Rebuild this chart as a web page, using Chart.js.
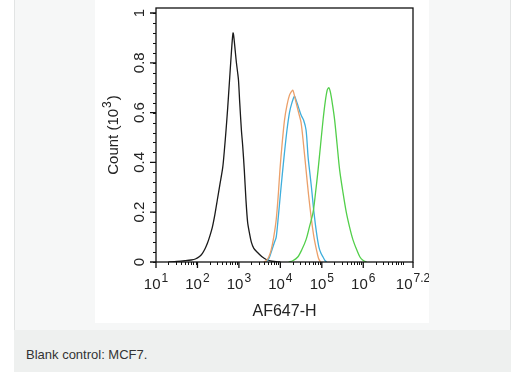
<!DOCTYPE html>
<html>
<head>
<meta charset="utf-8">
<script src="https://cdn.jsdelivr.net/npm/chart.js@4/dist/chart.umd.min.js"></script>
<style>
  html, body { margin: 0; padding: 0; background: #fff; }
  body { width: 519px; height: 372px; position: relative; overflow: hidden; font-family: "Liberation Sans", Arial, sans-serif; }
  .panel { position: absolute; left: 14px; top: -1px; width: 495px; height: 330px; background: #f6f7f7; border: 1px solid #e2e4e4; }
  .caption { position: absolute; left: 14px; top: 330px; width: 497px; height: 42px; background: #eef0ef; }
  .caption span { position: absolute; left: 12px; top: 17px; font-size: 13px; color: #333; }
  .figure { position: absolute; left: 95px; top: 0; width: 334px; height: 323px; background: #fff; }
</style>
</head>
<body>
<div class="panel"></div>
<div class="figure"><canvas id="histChart" width="334" height="323"></canvas></div>
<div class="caption"><span>Blank control: MCF7.</span></div>

<script>
// log10 fluorescence (AF647-H) vs count (x10^3)
const blackX = [1.3, 1.5, 1.7, 1.85, 1.95, 2.05, 2.12, 2.18, 2.24, 2.30, 2.36, 2.42, 2.48, 2.54, 2.61, 2.65, 2.69, 2.73, 2.77, 2.81, 2.84, 2.86, 2.88, 2.91, 2.94, 2.97, 2.99, 3.02, 3.06, 3.09, 3.13, 3.17, 3.21, 3.25, 3.30, 3.36, 3.45, 3.55, 3.66, 3.8, 4.0];
const blackY = [0, 0.002, 0.005, 0.008, 0.012, 0.022, 0.035, 0.052, 0.075, 0.105, 0.14, 0.19, 0.25, 0.31, 0.38, 0.45, 0.53, 0.62, 0.72, 0.82, 0.89, 0.92, 0.90, 0.85, 0.80, 0.76, 0.73, 0.64, 0.53, 0.47, 0.37, 0.25, 0.16, 0.12, 0.08, 0.055, 0.038, 0.022, 0.01, 0.003, 0];

const orangeX = [3.6, 3.66, 3.72, 3.78, 3.84, 3.9, 3.95, 3.99, 4.04, 4.1, 4.16, 4.22, 4.27, 4.3, 4.33, 4.38, 4.44, 4.5, 4.56, 4.62, 4.68, 4.75, 4.81, 4.87, 4.92, 4.97];
const orangeY = [0, 0.005, 0.02, 0.05, 0.1, 0.17, 0.27, 0.37, 0.47, 0.57, 0.63, 0.67, 0.685, 0.69, 0.675, 0.64, 0.6, 0.56, 0.47, 0.37, 0.27, 0.17, 0.1, 0.05, 0.015, 0];

const blueX = [3.65, 3.7, 3.74, 3.8, 3.86, 3.9, 3.95, 4.0, 4.04, 4.1, 4.16, 4.22, 4.28, 4.34, 4.38, 4.44, 4.5, 4.56, 4.62, 4.67, 4.71, 4.75, 4.81, 4.87, 4.93, 4.98, 5.03, 5.08, 5.12];
const blueY = [0, 0.008, 0.02, 0.05, 0.08, 0.1, 0.18, 0.27, 0.34, 0.44, 0.53, 0.6, 0.64, 0.665, 0.65, 0.62, 0.59, 0.57, 0.53, 0.42, 0.36, 0.3, 0.2, 0.12, 0.06, 0.035, 0.02, 0.005, 0];

const greenX = [4.2, 4.3, 4.42, 4.52, 4.62, 4.7, 4.79, 4.85, 4.91, 4.97, 5.03, 5.08, 5.13, 5.17, 5.21, 5.26, 5.31, 5.37, 5.43, 5.51, 5.59, 5.67, 5.75, 5.84, 5.92, 6.0, 6.08];
const greenY = [0, 0.005, 0.02, 0.05, 0.09, 0.14, 0.2, 0.28, 0.37, 0.47, 0.57, 0.64, 0.69, 0.70, 0.68, 0.63, 0.57, 0.47, 0.37, 0.28, 0.2, 0.14, 0.09, 0.05, 0.02, 0.006, 0];

// axis ticks
const xTickExp = [1, 2, 3, 4, 5, 6, 7.2];
const xTickLabels = ['1', '2', '3', '4', '5', '6', '7.2'];
const yTicks = [0, 0.2, 0.4, 0.6, 0.8, 1];
const yTickLabels = ['0', '0.2', '0.4', '0.6', '0.8', '1'];

const pts = (xs, ys) => xs.map((x, i) => ({ x: x, y: ys[i] }));

const FONT = '"Liberation Sans", Arial, sans-serif';
const INK = '#222';

// draws the FlowJo style box, ticks and labels from the chart scales
const flowAxes = {
    id: 'flowAxes',
    afterDatasetsDraw(chart) {
        const { ctx, chartArea: a, scales: { x, y } } = chart;
        ctx.save();
        ctx.strokeStyle = '#111';
        ctx.fillStyle = INK;
        ctx.lineWidth = 1.3;
        ctx.strokeRect(a.left, a.top, a.right - a.left, a.bottom - a.top);

        ctx.lineWidth = 1;
        ctx.beginPath();
        // x minor ticks (log decades)
        for (let d = 1; d < 8; d++) {
            for (let k = 2; k <= 9; k++) {
                const v = d + Math.log10(k);
                if (v > 7.2) continue;
                const px = Math.round(x.getPixelForValue(v)) + 0.5;
                ctx.moveTo(px, a.bottom);
                ctx.lineTo(px, a.bottom + 3);
            }
        }
        // y minor ticks
        for (let v = 0; v <= 1.001; v += 0.04) {
            const py = Math.round(y.getPixelForValue(v)) + 0.5;
            ctx.moveTo(a.left, py);
            ctx.lineTo(a.left - 3, py);
        }
        ctx.stroke();

        ctx.lineWidth = 1.3;
        ctx.beginPath();
        xTickExp.forEach(v => {
            const px = x.getPixelForValue(v);
            ctx.moveTo(px, a.bottom);
            ctx.lineTo(px, a.bottom + 6);
        });
        yTicks.forEach(v => {
            const py = y.getPixelForValue(v);
            ctx.moveTo(a.left, py);
            ctx.lineTo(a.left - 6, py);
        });
        ctx.stroke();

        // x tick labels 10^n
        ctx.textBaseline = 'alphabetic';
        ctx.textAlign = 'left';
        xTickExp.forEach((v, i) => {
            ctx.font = '15px ' + FONT;
            const wBase = ctx.measureText('10').width;
            ctx.font = '12px ' + FONT;
            const wSup = ctx.measureText(xTickLabels[i]).width;
            const start = x.getPixelForValue(v) - (wBase + wSup + 1) / 2;
            ctx.font = '15px ' + FONT;
            ctx.fillText('10', start, a.bottom + 27);
            ctx.font = '12px ' + FONT;
            ctx.fillText(xTickLabels[i], start + wBase + 1, a.bottom + 20);
        });

        // x title
        ctx.font = '16px ' + FONT;
        ctx.textAlign = 'center';
        ctx.fillText('AF647-H', (a.left + a.right) / 2, a.bottom + 54);

        // y tick labels, rotated
        yTicks.forEach((v, i) => {
            ctx.save();
            ctx.translate(a.left - 12, y.getPixelForValue(v));
            ctx.rotate(-Math.PI / 2);
            ctx.font = '15px ' + FONT;
            ctx.textAlign = 'center';
            ctx.fillText(yTickLabels[i], 0, 0);
            ctx.restore();
        });

        // y title Count (10^3)
        ctx.save();
        ctx.translate(a.left - 38, (a.top + a.bottom) / 2);
        ctx.rotate(-Math.PI / 2);
        ctx.font = '15px ' + FONT;
        const p1 = 'Count (10', p2 = '3', p3 = ')';
        const w1 = ctx.measureText(p1).width, w3 = ctx.measureText(p3).width;
        ctx.font = '12px ' + FONT;
        const w2 = ctx.measureText(p2).width;
        let sx = -(w1 + w2 + w3 + 2) / 2;
        ctx.textAlign = 'left';
        ctx.font = '15px ' + FONT;
        ctx.fillText(p1, sx, 0);
        ctx.font = '12px ' + FONT;
        ctx.fillText(p2, sx + w1 + 1, -7);
        ctx.font = '15px ' + FONT;
        ctx.fillText(p3, sx + w1 + w2 + 2, 0);
        ctx.restore();

        ctx.restore();
    }
};

const line = (data, color) => ({
    data: data,
    borderColor: color,
    borderWidth: 1.3,
    pointRadius: 0,
    tension: 0.3,
    fill: false
});

new Chart(document.getElementById('histChart'), {
    type: 'line',
    data: {
        datasets: [
            line(pts(greenX, greenY), '#52cf4a'),
            line(pts(orangeX, orangeY), '#eba06a'),
            line(pts(blueX, blueY), '#3eaedc'),
            line(pts(blackX, blackY), '#1a1a1a')
        ]
    },
    options: {
        responsive: false,
        animation: false,
        layout: { padding: { left: 61, top: 8, right: 16, bottom: 61 } },
        plugins: { legend: { display: false }, tooltip: { enabled: false } },
        scales: {
            x: { type: 'linear', min: 1, max: 7.2, display: false },
            y: { type: 'linear', min: 0, max: 1.02, display: false }
        }
    },
    plugins: [flowAxes]
});
</script>
</body>
</html>
